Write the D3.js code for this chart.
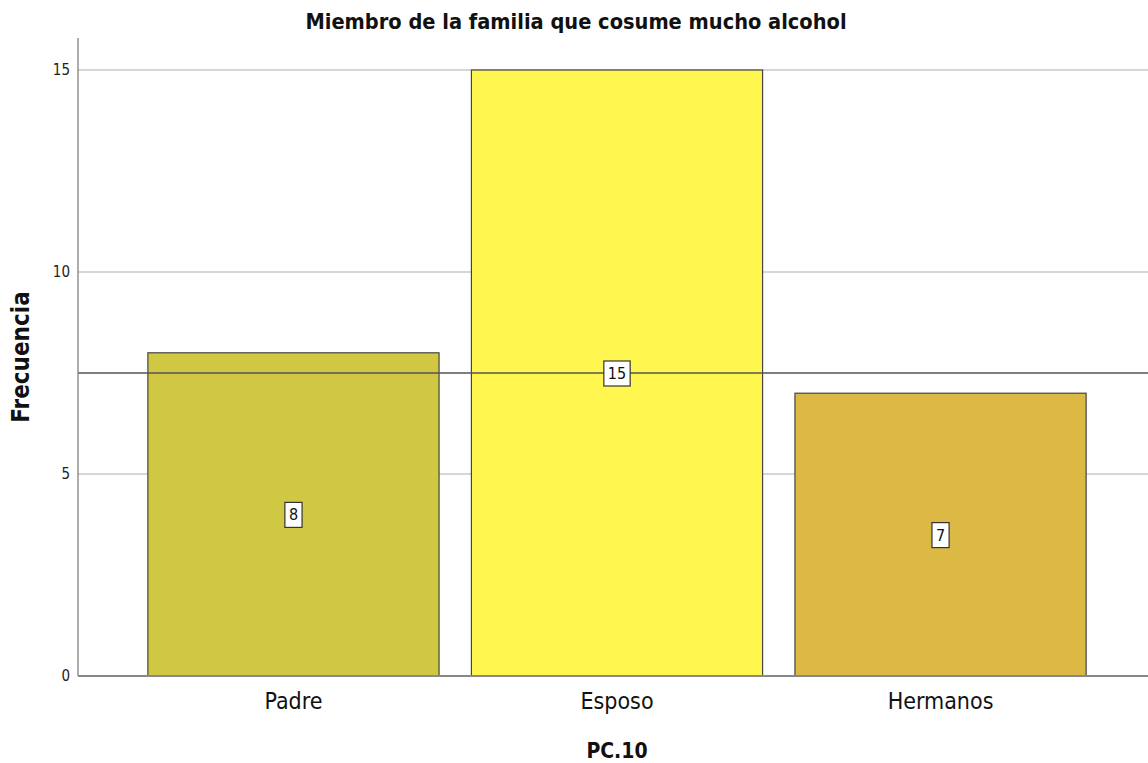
<!DOCTYPE html>
<html>
<head>
<meta charset="utf-8">
<script src="https://cdn.jsdelivr.net/npm/d3@7"></script>
<style>
  body { margin: 0; background: #fff; }
  text { font-family: "DejaVu Sans Condensed", "DejaVu Sans", sans-serif; }
</style>
</head>
<body>
<svg id="chart" width="1148" height="763"></svg>
<script>
// data
var categories = ["Padre", "Esposo", "Hermanos"];
var counts = [8, 15, 7];
var barColors = ["#d0c843", "#fff650", "#dcb944"];
var yTicks = [0, 5, 10, 15];
var refLine = 7.5;

var svg = d3.select("#chart");
var plotLeft = 78, plotRight = 1156, plotTop = 38, plotBottom = 676;

var x = d3.scaleBand()
    .domain(categories)
    .range([plotLeft, plotRight])
    .paddingInner(0.1)
    .paddingOuter(0.216);

var y = d3.scaleLinear()
    .domain([0, 15])
    .range([plotBottom, 70]);

// gridlines
svg.append("g").selectAll("line")
    .data(yTicks.filter(function (d) { return d > 0; }))
    .enter().append("line")
    .attr("x1", plotLeft).attr("x2", 1148)
    .attr("y1", function (d) { return y(d); })
    .attr("y2", function (d) { return y(d); })
    .attr("stroke", "#c8c8c8")
    .attr("stroke-width", 1.5);

// bars
svg.append("g").selectAll("rect")
    .data(counts)
    .enter().append("rect")
    .attr("x", function (d, i) { return x(categories[i]); })
    .attr("y", function (d) { return y(d); })
    .attr("width", x.bandwidth())
    .attr("height", function (d) { return plotBottom - y(d); })
    .attr("fill", function (d, i) { return barColors[i]; })
    .attr("stroke", "#444")
    .attr("stroke-width", 1.2);

// reference line at the mean
svg.append("line")
    .attr("x1", plotLeft).attr("x2", 1148)
    .attr("y1", y(refLine)).attr("y2", y(refLine))
    .attr("stroke", "#555")
    .attr("stroke-width", 1.5);

// axes lines
svg.append("line")
    .attr("x1", plotLeft).attr("x2", plotLeft)
    .attr("y1", plotTop).attr("y2", plotBottom)
    .attr("stroke", "#777").attr("stroke-width", 1.2);
svg.append("line")
    .attr("x1", plotLeft).attr("x2", 1148)
    .attr("y1", plotBottom).attr("y2", plotBottom)
    .attr("stroke", "#888").attr("stroke-width", 2);

// y tick labels
svg.append("g").selectAll("text")
    .data(yTicks)
    .enter().append("text")
    .attr("x", 70)
    .attr("y", function (d) { return y(d) + 5; })
    .attr("text-anchor", "end")
    .attr("font-size", 15)
    .attr("fill", "#222")
    .text(function (d) { return d; });

// x tick labels
svg.append("g").selectAll("text")
    .data(categories)
    .enter().append("text")
    .attr("x", function (d) { return x(d) + x.bandwidth() / 2; })
    .attr("y", 709)
    .attr("text-anchor", "middle")
    .attr("font-size", 23)
    .attr("fill", "#111")
    .text(function (d) { return d; });

// value labels in boxes
var lab = svg.append("g").selectAll("g")
    .data(counts)
    .enter().append("g")
    .attr("transform", function (d, i) {
        return "translate(" + (x(categories[i]) + x.bandwidth() / 2) + "," + y(d / 2) + ")";
    });
lab.append("text")
    .attr("text-anchor", "middle")
    .attr("y", 6)
    .attr("font-size", 16)
    .attr("fill", "#111")
    .text(function (d) { return d; })
    .each(function () {
        var b = this.getBBox();
        d3.select(this.parentNode).insert("rect", "text")
            .attr("x", b.x - 4).attr("y", -12)
            .attr("width", b.width + 8).attr("height", 25)
            .attr("fill", "#fff")
            .attr("stroke", "#333")
            .attr("stroke-width", 1.2);
    });

// titles
svg.append("text")
    .attr("x", 576).attr("y", 29)
    .attr("text-anchor", "middle")
    .attr("font-size", 21.6)
    .attr("font-weight", "bold")
    .attr("fill", "#111")
    .text("Miembro de la familia que cosume mucho alcohol");

svg.append("text")
    .attr("transform", "translate(29,357) rotate(-90)")
    .attr("text-anchor", "middle")
    .attr("font-size", 24)
    .attr("font-weight", "bold")
    .attr("fill", "#111")
    .text("Frecuencia");

svg.append("text")
    .attr("x", 617).attr("y", 758)
    .attr("text-anchor", "middle")
    .attr("font-size", 21)
    .attr("font-weight", "bold")
    .attr("fill", "#111")
    .text("PC.10");
</script>
</body>
</html>
